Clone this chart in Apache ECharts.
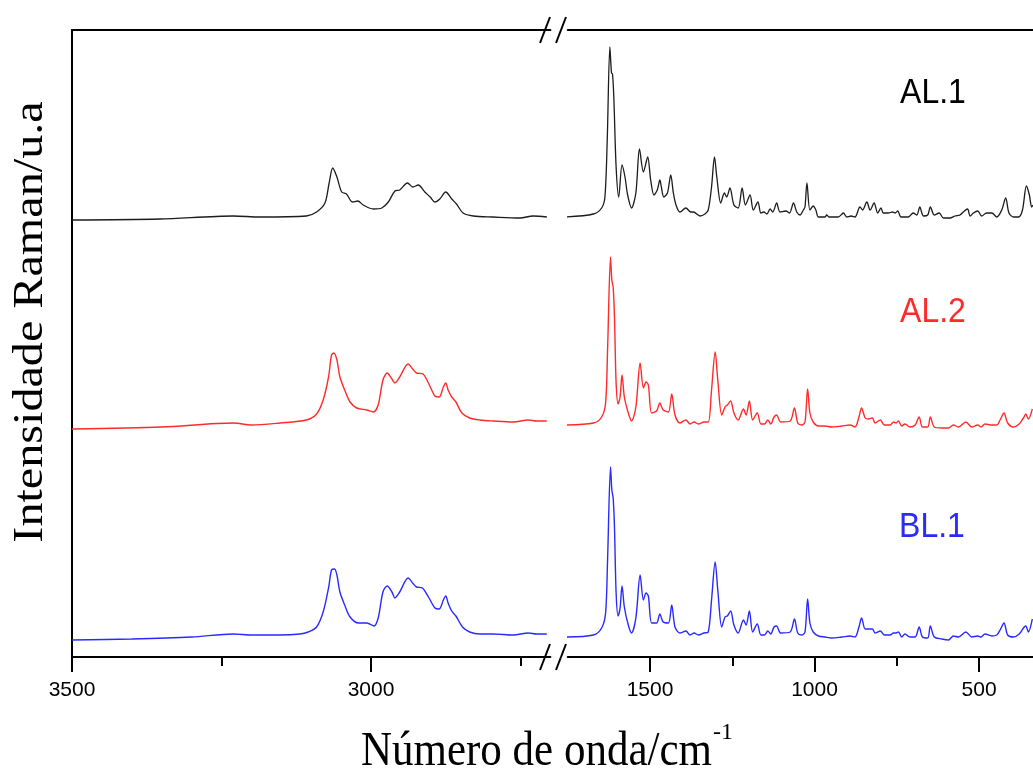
<!DOCTYPE html>
<html><head><meta charset="utf-8">
<script src="https://cdn.jsdelivr.net/npm/echarts@6/dist/echarts.min.js"></script>
<style>html,body{margin:0;padding:0;background:#fff}#c{width:1033px;height:775px}</style>
</head><body><div id="c"></div>
<script>
// Raman spectra, values (offset intensities, arbitrary units)
const AL1_HIGH = [[3500,437],[3353,438],[3230,441],[3186,440],[3108,441],[3091,445],[3077,454],[3070,474],[3064,489],[3057,480],[3049,465],[3041,463],[3031,455],[3022,456],[3013,452],[2996,448],[2982,449],[2971,455],[2960,466],[2952,467],[2939,474],[2930,470],[2921,472],[2910,465],[2901,460],[2893,455],[2885,458],[2875,465],[2865,458],[2857,453],[2846,444],[2829,441],[2796,440],[2751,439],[2729,441],[2706,440]];
const AL1_LOW = [[1758,440],[1672,443],[1647,449],[1637,460],[1630,517],[1622,610],[1617,584],[1614,583],[1610,560],[1603,490],[1595,460],[1585,492],[1576,480],[1568,462],[1556,449],[1543,464],[1532,508],[1520,485],[1507,500],[1498,477],[1488,462],[1478,467],[1470,477],[1465,469],[1458,460],[1447,464],[1437,482],[1429,464],[1421,452],[1409,445],[1391,449],[1376,445],[1368,445],[1348,441],[1333,443],[1323,447],[1313,470],[1304,500],[1297,480],[1285,454],[1274,464],[1267,460],[1257,469],[1245,452],[1232,449],[1220,469],[1210,452],[1196,462],[1186,447],[1172,455],[1163,444],[1154,445],[1145,443],[1135,448],[1127,445],[1115,454],[1105,445],[1087,446],[1076,444],[1064,454],[1054,445],[1044,442],[1034,447],[1029,450],[1023,474],[1014,447],[1004,451],[996,447],[988,440],[968,440],[963,442],[956,440],[938,440],[928,440],[912,444],[902,440],[889,441],[877,440],[862,450],[854,447],[841,455],[831,447],[819,454],[808,444],[798,449],[791,444],[776,444],[763,445],[755,444],[747,446],[737,440],[715,440],[700,444],[689,442],[680,450],[669,441],[656,442],[648,450],[636,442],[621,444],[608,439],[588,439],[573,441],[558,442],[548,445],[535,448],[527,441],[517,444],[504,446],[492,441],[477,444],[461,444],[446,440],[431,447],[419,459],[409,444],[395,440],[380,440],[368,447],[356,471],[347,462],[340,450],[336,452]];

const AL2_HIGH = [[3500,228],[3350,230],[3230,234],[3200,232],[3152,234],[3108,237],[3091,243],[3080,257],[3071,280],[3066,302],[3062,304],[3057,297],[3052,280],[3044,267],[3035,255],[3024,249],[3007,247],[2996,245],[2988,252],[2980,277],[2973,284],[2965,278],[2960,274],[2952,280],[2938,293],[2929,287],[2924,284],[2913,283],[2904,274],[2893,261],[2886,260],[2879,270],[2875,274],[2871,267],[2865,260],[2858,255],[2848,244],[2835,239],[2818,237],[2796,236],[2762,235],[2737,237],[2723,236],[2706,236]];
const AL2_LOW = [[1758,232],[1672,234],[1647,240],[1635,254],[1629,307],[1620,400],[1616,377],[1612,370],[1608,340],[1603,274],[1597,253],[1591,260],[1585,282],[1578,260],[1566,244],[1556,236],[1543,250],[1530,294],[1520,269],[1512,275],[1505,272],[1495,244],[1480,246],[1470,254],[1460,247],[1444,245],[1434,263],[1424,242],[1409,234],[1391,237],[1378,233],[1366,235],[1353,233],[1336,235],[1323,235],[1313,267],[1302,305],[1294,277],[1282,242],[1272,250],[1265,252],[1255,256],[1245,244],[1232,237],[1216,248],[1208,242],[1198,256],[1188,237],[1174,244],[1163,233],[1152,233],[1142,237],[1133,233],[1123,240],[1115,242],[1103,235],[1074,236],[1061,249],[1051,234],[1039,232],[1029,235],[1021,268],[1014,244],[1004,235],[988,231],[968,231],[948,230],[917,231],[892,232],[877,230],[865,240],[857,249],[846,239],[836,238],[824,239],[816,234],[800,237],[788,232],[770,232],[760,235],[752,234],[745,236],[735,231],[725,233],[710,230],[694,232],[682,240],[672,230],[656,230],[648,240],[636,230],[613,229],[593,229],[578,232],[563,230],[540,235],[522,230],[504,232],[494,230],[482,233],[461,232],[446,232],[436,237],[424,244],[413,234],[395,230],[378,233],[365,239],[358,243],[350,238],[338,248]];

const BL1_HIGH = [[3500,17],[3400,18],[3300,20],[3230,23],[3200,22],[3152,22],[3119,23],[3105,25],[3091,30],[3080,45],[3071,69],[3066,87],[3061,88],[3057,82],[3052,65],[3044,52],[3035,40],[3021,34],[3007,34],[2995,31],[2988,39],[2980,65],[2973,71],[2965,65],[2960,59],[2952,65],[2938,79],[2929,73],[2924,70],[2914,69],[2904,60],[2893,49],[2886,48],[2879,57],[2875,61],[2871,54],[2865,46],[2858,41],[2847,30],[2835,25],[2818,23],[2796,23],[2762,22],[2737,24],[2723,23],[2706,23]];
const BL1_LOW = [[1758,20],[1672,22],[1647,29],[1635,44],[1629,97],[1620,190],[1616,167],[1612,159],[1608,130],[1603,64],[1597,41],[1591,49],[1585,71],[1578,50],[1566,32],[1556,24],[1543,39],[1530,82],[1520,57],[1512,64],[1505,61],[1495,34],[1480,34],[1470,43],[1460,35],[1444,34],[1434,52],[1424,30],[1409,24],[1391,26],[1378,22],[1366,24],[1353,22],[1336,24],[1323,25],[1313,57],[1302,95],[1294,67],[1282,30],[1272,40],[1265,41],[1255,46],[1245,32],[1232,24],[1216,37],[1208,32],[1198,46],[1188,25],[1174,33],[1163,22],[1152,22],[1142,26],[1133,23],[1123,30],[1115,31],[1103,24],[1074,25],[1061,38],[1051,24],[1039,22],[1029,25],[1021,58],[1014,34],[1004,25],[988,21],[968,20],[948,19],[917,20],[892,21],[877,20],[865,30],[857,39],[846,28],[836,28],[824,28],[816,24],[800,26],[788,22],[770,22],[760,24],[752,24],[745,25],[735,20],[725,23],[710,20],[694,20],[682,30],[672,20],[656,19],[648,31],[636,20],[613,18],[593,17],[578,21],[563,20],[540,25],[522,20],[504,21],[494,20],[482,23],[461,21],[446,22],[436,27],[424,34],[413,22],[395,20],[378,23],[365,29],[358,31],[350,25],[338,38]];

const HIGH_RANGE = [2700, 3500];
const LOW_RANGE = [336, 1750];
const HIGH_MAJOR = [3500, 3000];
const HIGH_MINOR = [3250, 2750];
const LOW_MAJOR = [1500, 1000, 500];
const LOW_MINOR = [1250, 750];
const Y_RANGE = [0, 627];
const SAMPLE_NAMES = ['AL.1', 'AL.2', 'BL.1'];
const COLORS = ['#1c1c1c', '#ff2a2a', '#2a2aff'];
const LABEL_COLORS = ['#000', '#ff2a2a', '#2a2aff'];
const X_TITLE = 'Número de onda/cm';
const X_TITLE_SUP = '-1';
const Y_TITLE = 'Intensidade Raman/u.a';

const chart = echarts.init(document.getElementById('c'), null, {renderer: 'canvas'});

const AXIS_STYLE = {color: '#000', width: 2};
function xAxes(gi, range, major, minor) {
  const base = {type: 'value', gridIndex: gi, min: range[0], max: range[1], inverse: true, splitLine: {show: false}};
  return [
    Object.assign({}, base, {position: 'bottom',
      axisLine: {show: true, onZero: false, lineStyle: AXIS_STYLE},
      axisTick: {show: true, customValues: major, length: 15, lineStyle: AXIS_STYLE},
      axisLabel: {show: true, customValues: major, margin: 23, color: '#000',
        fontFamily: 'Liberation Sans', fontSize: 21, formatter: v => String(v)}}),
    Object.assign({}, base, {position: 'bottom',
      axisLine: {show: false, onZero: false},
      axisTick: {show: true, customValues: minor, length: 9, lineStyle: AXIS_STYLE},
      axisLabel: {show: false}}),
    Object.assign({}, base, {position: 'top',
      axisLine: {show: true, onZero: false, lineStyle: AXIS_STYLE},
      axisTick: {show: false}, axisLabel: {show: false}})
  ];
}

const spectra = [
  {high: AL1_HIGH, low: AL1_LOW},
  {high: AL2_HIGH, low: AL2_LOW},
  {high: BL1_HIGH, low: BL1_LOW}
];
const series = [];
spectra.forEach((s, i) => {
  const common = {type: 'line', showSymbol: false, smooth: 0.3, clip: true, silent: true,
    lineStyle: {color: COLORS[i], width: i === 0 ? 1.3 : 1.4}, itemStyle: {color: COLORS[i]}};
  series.push(Object.assign({}, common, {name: SAMPLE_NAMES[i] + ' high', xAxisIndex: 0, yAxisIndex: 0, data: s.high}));
  series.push(Object.assign({}, common, {name: SAMPLE_NAMES[i] + ' low', xAxisIndex: 3, yAxisIndex: 1, data: s.low}));
});

function slash(x, y) {
  return {type: 'line', z: 100, shape: {x1: x, y1: y + 13, x2: x + 10, y2: y - 13},
    style: {stroke: '#000', lineWidth: 2}};
}
const labelPos = [[933, 93], [933, 312], [932, 527]];

chart.setOption({
  animation: false,
  backgroundColor: '#fff',
  grid: [
    {left: 72, top: 30, width: 478.4, height: 627},
    {left: 567.75, top: 30, width: 465.25, height: 627}
  ],
  xAxis: xAxes(0, HIGH_RANGE, HIGH_MAJOR, HIGH_MINOR).concat(xAxes(1, LOW_RANGE, LOW_MAJOR, LOW_MINOR)),
  yAxis: [
    {type: 'value', gridIndex: 0, min: Y_RANGE[0], max: Y_RANGE[1], position: 'left',
      axisLine: {show: true, onZero: false, lineStyle: AXIS_STYLE}, axisTick: {show: false}, axisLabel: {show: false}, splitLine: {show: false}},
    {type: 'value', gridIndex: 1, min: Y_RANGE[0], max: Y_RANGE[1],
      axisLine: {show: false}, axisTick: {show: false}, axisLabel: {show: false}, splitLine: {show: false}}
  ],
  series: series,
  graphic: [
    slash(540, 30), slash(556, 30), slash(540, 657), slash(556, 657),
    {type: 'text', x: 712, y: 752, scaleY: 1.12, style: {text: X_TITLE, fill: '#000',
      font: '43px "Liberation Serif"', textAlign: 'right', textVerticalAlign: 'middle'}},
    {type: 'text', x: 713, y: 733, style: {text: X_TITLE_SUP, fill: '#000',
      font: '24px "Liberation Serif"', textAlign: 'left', textVerticalAlign: 'middle'}},
    {type: 'text', x: 31, y: 322, rotation: Math.PI / 2, scaleX: 1.12, style: {text: Y_TITLE, fill: '#000',
      font: '43px "Liberation Serif"', textAlign: 'center', textVerticalAlign: 'middle'}}
  ].concat(SAMPLE_NAMES.map((n, i) => ({type: 'text', x: labelPos[i][0], y: labelPos[i][1], scaleY: 1.08,
      style: {text: n, fill: LABEL_COLORS[i], font: '32px "Liberation Sans"',
        textAlign: 'center', textVerticalAlign: 'middle'}})))
});
</script></body></html>
